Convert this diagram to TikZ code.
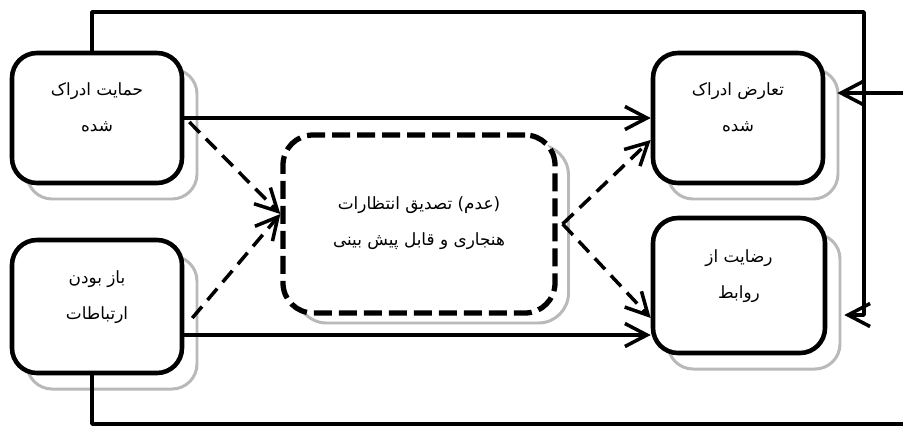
\documentclass[tikz,border=0pt]{standalone}
\usepackage{fontspec}
\newfontfamily\arabicfont[Script=Arabic]{DejaVu Sans}
\TeXXeTstate=1
\usetikzlibrary{arrows.meta,shadows}

\begin{document}
\begin{tikzpicture}[line join=round,
  >={Straight Barb[length=4.4mm,width=4.6mm]},
  box/.style={draw,line width=2.6pt,fill=white,rounded corners=0.5cm,
    minimum width=3.4cm,minimum height=2.6cm,align=center,text depth=0.45cm,
    font=\arabicfont\fontsize{9.6}{11.5}\selectfont},
  shade/.style={copy shadow={shadow xshift=#1,draw=gray!55,line width=1.7pt,solid}},
  shade/.default={0.3cm,shadow yshift=-0.32cm},
  midbox/.style={box,line width=3pt,dash pattern=on 0.36cm off 0.14cm,
    rounded corners=0.6cm,minimum width=5.44cm,minimum height=3.56cm,text depth=0.1cm},
  flow/.style={line width=2pt},
  hint/.style={line width=2pt,dash pattern=on 0.3cm off 0.17cm}]
  \useasboundingbox (0,0) rectangle (18.06,-8.54);
  \node[box,shade] (b1) at (1.94,-2.36) {\beginR حمایت ادراک\endR\\[9pt]\beginR شده\endR};
  \node[box,shade,minimum height=2.66cm] (b2) at (1.94,-6.13) {\beginR باز بودن\endR\\[9pt]\beginR ارتباطات\endR};
  \node[midbox,shade={0.27cm,shadow yshift=-0.2cm}] (mid) at (8.38,-4.48) {\beginR (عدم) تصدیق انتظارات\endR\\[9pt]\beginR هنجاری و قابل پیش بینی\endR};
  \node[box,shade] (rt) at (14.76,-2.36) {\beginR تعارض ادراک\endR\\[9pt]\beginR شده\endR};
  \node[box,shade,minimum width=3.44cm,minimum height=2.7cm] (rb) at (14.78,-5.71) {\beginR رضایت از\endR\\[9pt]\beginR روابط\endR};
  % solid links
  \draw[flow,->] (b1.east) -- (rt.west);
  \draw[flow,->] ([yshift=-0.57cm]b2.east) -- ([yshift=-0.57cm]b2.east -| rb.west);
  % dashed links
  \draw[hint,->] ([shift={(0.1,-0.08)}]b1.east) -- ([yshift=0.2cm]mid.west);
  \draw[hint,->] ([shift={(0.16,-0.23)}]b2.east) -- ([yshift=0.2cm]mid.west);
  \draw[hint,->] ([xshift=0.1cm]mid.east) -- ([yshift=-0.44cm]rt.west);
  \draw[hint,->] ([xshift=0.1cm]mid.east) -- ([yshift=-0.65cm]rb.west);
  % outer loops
  \draw[flow,->] ([xshift=-0.1cm]b1.north) |- (17.28,-0.24) |- ([shift={(0.34,-0.59)}]rb.east);
  \draw[flow,->] ([xshift=-0.1cm]b2.south) |- (18.3,-8.48) |- ([shift={(0.24,0.5)}]rt.east);
\end{tikzpicture}
\end{document}
